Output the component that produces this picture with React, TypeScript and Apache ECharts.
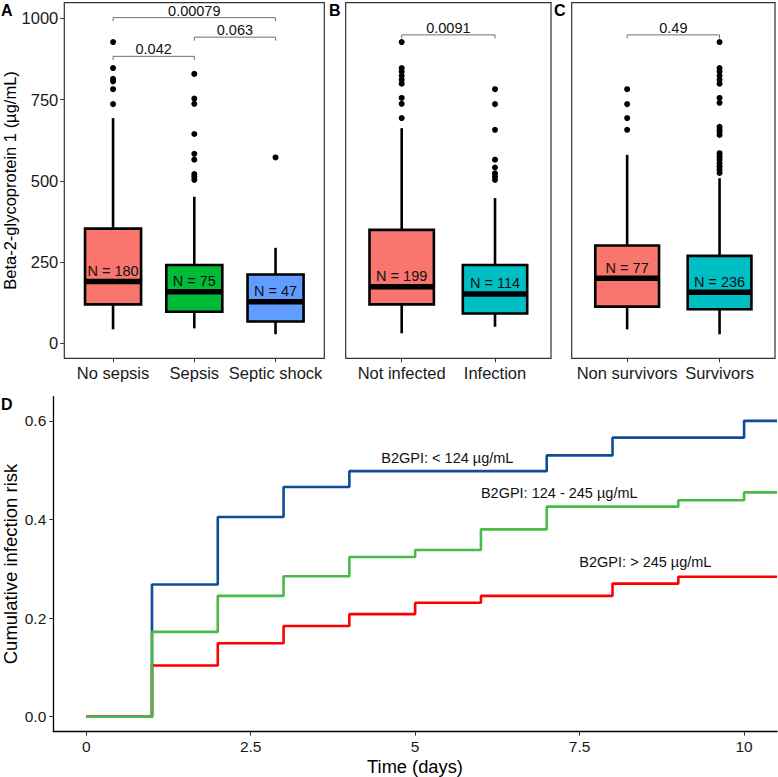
import React, { useEffect, useRef } from "react";
import * as echarts from "echarts";

const FONT = "'Liberation Sans', Arial, Helvetica, sans-serif";

// ---------- Panel A ----------
const groupsA = ["No sepsis", "Sepsis", "Septic shock"];
// [min, q1, median, q3, max]
const statsA = [
  [43, 120, 190, 353, 693],
  [46, 97, 159, 241, 451],
  [28, 67, 128, 212, 294],
];
const nA = [180, 75, 47];
const outliersA = [
  [927, 847, 814, 806, 782, 736],
  [829, 753, 737, 644, 583, 565, 521, 513, 503],
  [572],
];
const bracketsA = [
  [1, 3, 1002],
  [2, 3, 942],
  [1, 2, 883],
];
const pvalsA = ["0.00079", "0.063", "0.042"];

// ---------- Panel B ----------
const groupsB = ["Not infected", "Infection"];
const statsB = [
  [31, 120, 174, 349, 662],
  [51, 92, 152, 241, 447],
];
const nB = [199, 114];
const outliersB = [
  [927, 847, 836, 823, 811, 799, 755, 737, 693],
  [782, 736, 657, 565, 541, 523, 513, 503],
];
const bracketsB = [[1, 2, 949]];
const pvalsB = ["0.0091"];

// ---------- Panel C ----------
const groupsC = ["Non survivors", "Survivors"];
const statsC = [
  [43, 113, 200, 301, 580],
  [28, 105, 157, 269, 508],
];
const nC = [77, 236];
const outliersC = [
  [782, 736, 693, 657],
  [927, 847, 836, 823, 811, 799, 755, 740, 666, 657, 650, 641, 585, 575, 565, 554, 544, 534, 524],
];
const bracketsC = [[1, 2, 949]];
const pvalsC = ["0.49"];

const yTicksBox = [0, 250, 500, 750, 1000];

// ---------- Panel D ----------
const timesLow = [0, 1, 2, 3, 4, 7, 8, 10, 10.5];
const riskLow = [0, 0.268, 0.405, 0.466, 0.498, 0.53, 0.566, 0.6, 0.6];
const timesMid = [0, 1, 2, 3, 4, 5, 6, 7, 9, 10, 10.5];
const riskMid = [0, 0.172, 0.245, 0.285, 0.324, 0.338, 0.38, 0.426, 0.439, 0.455, 0.455];
const timesHigh = [0, 1, 2, 3, 4, 5, 6, 8, 9, 10.5];
const riskHigh = [0, 0.104, 0.149, 0.184, 0.208, 0.231, 0.245, 0.27, 0.284, 0.284];
const curveLabels = ["B2GPI: < 124 µg/mL", "B2GPI: 124 - 245 µg/mL", "B2GPI: > 245 µg/mL"];
const curveLabelPos = [
  [5.49, 0.524],
  [7.19, 0.453],
  [8.5, 0.314],
];
const xTicksD = [0, 2.5, 5, 7.5, 10];
const yTicksD = [0, 0.2, 0.4, 0.6];

const RED = "#F8766D";
const GREEN = "#00BA38";
const BLUE = "#619CFF";
const CYAN = "#00BFC4";

function boxSeries(idx: number, stats: number[][], ns: number[], colors: string[]) {
  return {
    type: "custom",
    xAxisIndex: idx,
    yAxisIndex: idx,
    encode: { x: 0, y: [1, 2, 3, 4, 5] },
    data: stats.map((s, i) => [i + 1, ...s]),
    z: 2,
    renderItem: (params: any, api: any) => {
      const x = api.value(0);
      const pMin = api.coord([x, api.value(1)]);
      const pQ1 = api.coord([x, api.value(2)]);
      const pMed = api.coord([x, api.value(3)]);
      const pQ3 = api.coord([x, api.value(4)]);
      const pMax = api.coord([x, api.value(5)]);
      const half = api.size([0.69, 0])[0] / 2;
      const cx = pMed[0];
      const lw = 2.6;
      return {
        type: "group",
        children: [
          { type: "line", shape: { x1: cx, y1: pMax[1], x2: cx, y2: pQ3[1] }, style: { stroke: "#000", lineWidth: lw } },
          { type: "line", shape: { x1: cx, y1: pQ1[1], x2: cx, y2: pMin[1] }, style: { stroke: "#000", lineWidth: lw } },
          {
            type: "rect",
            shape: { x: cx - half, y: pQ3[1], width: half * 2, height: pQ1[1] - pQ3[1] },
            style: { fill: colors[params.dataIndex], stroke: "#000", lineWidth: lw },
          },
          {
            type: "line",
            shape: { x1: cx - half, y1: pMed[1], x2: cx + half, y2: pMed[1] },
            style: { stroke: "#000", lineWidth: 5.5 },
          },
          {
            type: "text",
            style: {
              text: "N = " + ns[params.dataIndex],
              x: cx,
              y: pMed[1] - 3,
              textAlign: "center",
              textVerticalAlign: "bottom",
              fontSize: 14.5,
              fontFamily: FONT,
              fill: "#111",
            },
          },
        ],
      };
    },
  };
}

function outlierSeries(idx: number, outs: number[][]) {
  const data: number[][] = [];
  outs.forEach((arr, i) => arr.forEach((v) => data.push([i + 1, v])));
  return {
    type: "scatter",
    xAxisIndex: idx,
    yAxisIndex: idx,
    data,
    symbol: "circle",
    symbolSize: 6,
    itemStyle: { color: "#000", opacity: 1 },
    z: 3,
  };
}

function bracketSeries(idx: number, brackets: number[][], labels: string[]) {
  return {
    type: "custom",
    xAxisIndex: idx,
    yAxisIndex: idx,
    encode: { x: [0, 1], y: 2 },
    data: brackets,
    z: 4,
    renderItem: (params: any, api: any) => {
      const p1 = api.coord([api.value(0), api.value(2)]);
      const p2 = api.coord([api.value(1), api.value(2)]);
      return {
        type: "group",
        children: [
          {
            type: "polyline",
            shape: { points: [[p1[0], p1[1] + 3.5], [p1[0], p1[1]], [p2[0], p2[1]], [p2[0], p2[1] + 3.5]] },
            style: { stroke: "#6f6f6f", lineWidth: 1, fill: null },
          },
          {
            type: "text",
            style: {
              text: labels[params.dataIndex],
              x: (p1[0] + p2[0]) / 2,
              y: p1[1] + 0.5,
              textAlign: "center",
              textVerticalAlign: "bottom",
              fontSize: 14.5,
              fontFamily: FONT,
              fill: "#111",
            },
          },
        ],
      };
    },
  };
}

function catXAxis(idx: number, groups: string[]) {
  const vals = groups.map((_, i) => i + 1);
  return {
    type: "value",
    gridIndex: idx,
    min: 0.4,
    max: groups.length + 0.6,
    position: "bottom",
    axisLine: { show: false, onZero: false },
    splitLine: { show: false },
    axisTick: { show: true, customValues: vals, length: 4, lineStyle: { color: "#333", width: 1 } },
    axisLabel: {
      customValues: vals,
      formatter: (v: number) => groups[Math.round(v) - 1] ?? "",
      fontSize: 16.5,
      fontFamily: FONT,
      color: "#1a1a1a",
      margin: 6,
    },
  };
}

function boxYAxis(idx: number, showLabels: boolean) {
  return {
    type: "value",
    gridIndex: idx,
    min: -46,
    max: 1048,
    position: "left",
    axisLine: { show: false, onZero: false },
    splitLine: { show: false },
    axisTick: { show: showLabels, customValues: yTicksBox, length: 4, lineStyle: { color: "#333", width: 1 } },
    axisLabel: {
      show: showLabels,
      customValues: yTicksBox,
      formatter: (v: number) => String(v),
      fontSize: 16.5,
      fontFamily: FONT,
      color: "#1a1a1a",
      margin: 6,
    },
  };
}

function stepSeries(times: number[], risk: number[], color: string) {
  return {
    type: "line",
    xAxisIndex: 3,
    yAxisIndex: 3,
    step: "end",
    symbol: "none",
    data: times.map((t, i) => [t, risk[i]]),
    lineStyle: { color, width: 2.6 },
    z: 2,
  };
}

export default function App() {
  const ref = useRef<HTMLDivElement>(null);
  useEffect(() => {
    document.body.style.margin = "0";
    if (!ref.current) return;
    const chart = echarts.init(ref.current, null, { renderer: "svg" });
    const gridBox = { top: 2.7, height: 355.6, show: true, borderColor: "#333", borderWidth: 1.2, backgroundColor: "transparent" };
    const option: any = {
      animation: false,
      backgroundColor: "#fff",
      grid: [
        { ...gridBox, left: 64.3, width: 260 },
        { ...gridBox, left: 345.7, width: 205.3 },
        { ...gridBox, left: 571.7, width: 203.3 },
        { left: 53.3, top: 396.7, width: 723.7, height: 335, show: false },
      ],
      xAxis: [
        catXAxis(0, groupsA),
        catXAxis(1, groupsB),
        catXAxis(2, groupsC),
        {
          type: "value",
          gridIndex: 3,
          min: -0.5,
          max: 10.5,
          position: "bottom",
          axisLine: { show: true, onZero: false, lineStyle: { color: "#000", width: 1.3 } },
          splitLine: { show: false },
          axisTick: { show: true, customValues: xTicksD, length: 4, lineStyle: { color: "#333" } },
          axisLabel: {
            customValues: xTicksD,
            formatter: (v: number) => String(v),
            fontSize: 15.5,
            fontFamily: FONT,
            color: "#1a1a1a",
            margin: 7,
          },
        },
      ],
      yAxis: [
        boxYAxis(0, true),
        boxYAxis(1, false),
        boxYAxis(2, false),
        {
          type: "value",
          gridIndex: 3,
          min: -0.0304,
          max: 0.649,
          position: "left",
          axisLine: { show: true, onZero: false, lineStyle: { color: "#000", width: 1.3 } },
          splitLine: { show: false },
          axisTick: { show: true, customValues: yTicksD, length: 4, lineStyle: { color: "#333" } },
          axisLabel: {
            customValues: yTicksD,
            formatter: (v: number) => v.toFixed(1),
            fontSize: 15.5,
            fontFamily: FONT,
            color: "#1a1a1a",
            margin: 7,
          },
        },
      ],
      series: [
        boxSeries(0, statsA, nA, [RED, GREEN, BLUE]),
        outlierSeries(0, outliersA),
        bracketSeries(0, bracketsA, pvalsA),
        boxSeries(1, statsB, nB, [RED, CYAN]),
        outlierSeries(1, outliersB),
        bracketSeries(1, bracketsB, pvalsB),
        boxSeries(2, statsC, nC, [RED, CYAN]),
        outlierSeries(2, outliersC),
        bracketSeries(2, bracketsC, pvalsC),
        stepSeries(timesLow, riskLow, "#0E4C97"),
        stepSeries(timesHigh, riskHigh, "#FF0000"),
        stepSeries(timesMid, riskMid, "#46BC46"),
        {
          type: "custom",
          xAxisIndex: 3,
          yAxisIndex: 3,
          encode: { x: 0, y: 1 },
          data: curveLabelPos,
          z: 5,
          renderItem: (params: any, api: any) => {
            const p = api.coord([api.value(0), api.value(1)]);
            return {
              type: "text",
              style: {
                text: curveLabels[params.dataIndex],
                x: p[0],
                y: p[1],
                textAlign: "center",
                textVerticalAlign: "middle",
                fontSize: 14.5,
                fontFamily: FONT,
                fill: "#111",
              },
            };
          },
        },
      ],
      graphic: [
        { type: "text", left: 1, top: 2, style: { text: "A", fontSize: 16, fontWeight: "bold", fontFamily: FONT, fill: "#000" } },
        { type: "text", left: 329, top: 2, style: { text: "B", fontSize: 16, fontWeight: "bold", fontFamily: FONT, fill: "#000" } },
        { type: "text", left: 554, top: 2, style: { text: "C", fontSize: 16, fontWeight: "bold", fontFamily: FONT, fill: "#000" } },
        { type: "text", left: 1, top: 396, style: { text: "D", fontSize: 16, fontWeight: "bold", fontFamily: FONT, fill: "#000" } },
        {
          type: "text",
          x: 10,
          y: 180.5,
          rotation: Math.PI / 2,
          style: {
            text: "Beta-2-glycoprotein 1 (µg/mL)",
            fontSize: 16.5,
            fontFamily: FONT,
            fill: "#000",
            textAlign: "center",
            textVerticalAlign: "middle",
          },
        },
        {
          type: "text",
          x: 10,
          y: 564,
          rotation: Math.PI / 2,
          style: {
            text: "Cumulative infection risk",
            fontSize: 18.5,
            fontFamily: FONT,
            fill: "#000",
            textAlign: "center",
            textVerticalAlign: "middle",
          },
        },
        {
          type: "text",
          x: 415,
          y: 766,
          style: {
            text: "Time (days)",
            fontSize: 18.3,
            fontFamily: FONT,
            fill: "#000",
            textAlign: "center",
            textVerticalAlign: "middle",
          },
        },
      ],
    };
    chart.setOption(option);
    return () => chart.dispose();
  }, []);
  return <div ref={ref} style={{ width: 778, height: 777 }} />;
}
